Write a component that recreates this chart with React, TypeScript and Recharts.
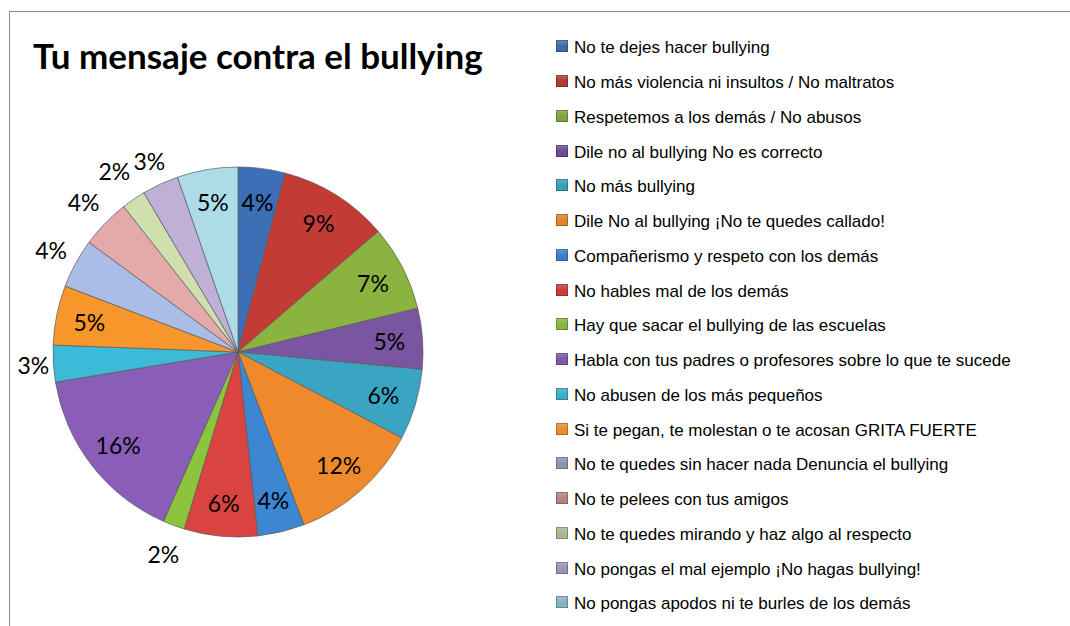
import { Cell, Legend, Pie, PieChart } from "recharts";

const CATEGORIES = [
  "No te dejes hacer bullying",
  "No más violencia ni insultos / No maltratos",
  "Respetemos a los demás / No abusos",
  "Dile no al bullying No es correcto",
  "No más bullying",
  "Dile No al bullying ¡No te quedes callado!",
  "Compañerismo y respeto con los demás",
  "No hables mal de los demás",
  "Hay que sacar el bullying de las escuelas",
  "Habla con tus padres o profesores sobre lo que te sucede",
  "No abusen de los más pequeños",
  "Si te pegan, te molestan o te acosan GRITA FUERTE",
  "No te quedes sin hacer nada Denuncia el bullying",
  "No te pelees con tus amigos",
  "No te quedes mirando y haz algo al respecto",
  "No pongas el mal ejemplo ¡No hagas bullying!",
  "No pongas apodos ni te burles de los demás",
];

// porcentajes estimados a partir de los ángulos del pastel
const SHARES = [4.1, 9.6, 7.5, 5.3, 6.2, 11.5, 4.1, 6.4, 1.9, 15.8, 3.2, 5.2, 4.3, 4.3, 2.1, 3.2, 5.3];

// etiquetas tal como aparecen en el gráfico
const PERCENT_LABELS = ["4%", "9%", "7%", "5%", "6%", "12%", "4%", "6%", "2%", "16%", "3%", "5%", "4%", "4%", "2%", "3%", "5%"];

const COLORS = [
  "#3D6FB6", "#C23C35", "#8AB43F", "#7A56A0", "#3AA5C2", "#EE8A2C",
  "#3D86D2", "#D94340", "#8DC43E", "#8A5DB8", "#3BBBD8", "#F7962A",
  "#A9BDE6", "#E4AAAA", "#CFE0AE", "#BFB0D8", "#ADDCE8",
];

const LEGEND_SWATCH = [
  "#3F6AA8", "#B03A36", "#7FA43F", "#6A4E94", "#3A9DB8", "#DF8430",
  "#3C7FC8", "#C83D3B", "#85B843", "#7F58AE", "#3BAFCB", "#E98D2C",
  "#8795AF", "#B78383", "#A7B78F", "#9E93B0", "#86B3C2",
];

// "best fit" de Excel: distancia fuera del borde (0 = etiqueta dentro del sector)
const LABEL_GAP = [0, 0, 0, 0, 0, 0, 0, 0, 30, 0, 20, 0, 28, 30, 34, 26, 0];

const CX = 238;
const CY = 352;
const R = 185;
const RAD = Math.PI / 180;

const data = CATEGORIES.map((name, i) => ({ name, value: SHARES[i], label: PERCENT_LABELS[i] }));

function renderLabel(props: any) {
  const { cx, cy, midAngle, outerRadius, index } = props;
  const r = LABEL_GAP[index] ? outerRadius + LABEL_GAP[index] : outerRadius * 0.82;
  const x = cx + r * Math.cos(-midAngle * RAD);
  const y = cy + r * Math.sin(-midAngle * RAD);
  return (
    <text
      x={x}
      y={y}
      textAnchor="middle"
      dominantBaseline="central"
      fontFamily="Lato, 'Open Sans', sans-serif"
      fontSize={23}
      fill="#000"
    >
      {PERCENT_LABELS[index]}
    </text>
  );
}

function LegendList() {
  return (
    <div style={{ fontFamily: "'Liberation Sans', Arial, sans-serif", fontSize: 17, color: "#000" }}>
      {CATEGORIES.map((name, i) => (
        <div key={name} style={{ display: "flex", alignItems: "center", height: 34.75, whiteSpace: "nowrap" }}>
          <span
            style={{
              display: "inline-block",
              width: 12,
              height: 12,
              marginRight: 6,
              marginTop: -4,
              background: `linear-gradient(180deg, ${LEGEND_SWATCH[i]}cc 0%, ${LEGEND_SWATCH[i]} 50%, ${LEGEND_SWATCH[i]} 100%)`,
              boxShadow: "inset 0 0 0 1px rgba(0,0,0,0.25)",
            }}
          />
          {name}
        </div>
      ))}
    </div>
  );
}

export default function App() {
  return (
    <div style={{ position: "absolute", left: 0, top: 0, width: 1070, height: 626, background: "#fff", overflow: "hidden" }}>
      <div
        style={{
          position: "absolute",
          left: 9,
          top: 11,
          width: 1070,
          height: 626,
          borderTop: "1.5px solid #8a8a8a",
          borderLeft: "1.5px solid #8a8a8a",
        }}
      />
      <div
        style={{
          position: "absolute",
          left: 33,
          top: 34,
          fontFamily: "Lato, 'Open Sans', sans-serif",
          fontWeight: 700,
          fontSize: 35,
          color: "#000",
          whiteSpace: "nowrap",
        }}
      >
        Tu mensaje contra el bullying
      </div>
      <PieChart
        width={1070}
        height={626}
        margin={{ top: 0, right: 0, bottom: 0, left: 0 }}
        style={{ position: "absolute", left: 0, top: 0 }}
      >
        <Pie
          data={data}
          dataKey="value"
          nameKey="name"
          cx={CX}
          cy={CY}
          outerRadius={R}
          startAngle={90}
          endAngle={-270}
          stroke="#5a5a5a"
          strokeWidth={0.7}
          label={renderLabel}
          labelLine={false}
          isAnimationActive={false}
        >
          {data.map((d, i) => (
            <Cell key={d.name} fill={COLORS[i]} />
          ))}
        </Pie>
        <Legend
          layout="vertical"
          align="right"
          verticalAlign="top"
          wrapperStyle={{ left: 556, top: 31, width: 510 }}
          content={() => <LegendList />}
        />
      </PieChart>
    </div>
  );
}
